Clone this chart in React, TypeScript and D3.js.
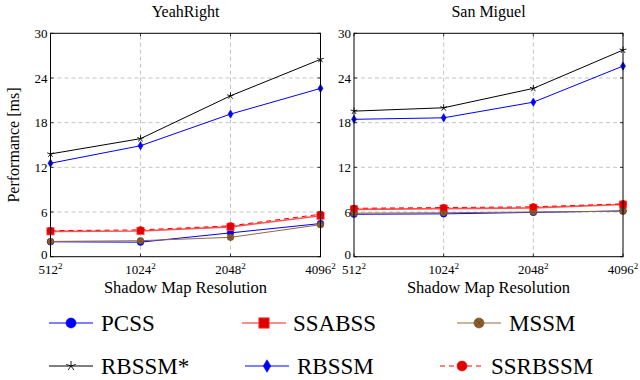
import { useRef, useEffect } from 'react';
import * as d3 from 'd3';

// x categories (shadow map sizes, squared in the labels)
const resolutions = [512, 1024, 2048, 4096];
const yTicks = [0, 6, 12, 18, 24, 30];
const sceneNames = ["YeahRight", "San Miguel"];
const seriesNames = ["PCSS", "SSABSS", "MSSM", "RBSSM*", "RBSSM", "SSRBSSM"];

// YeahRight timings [ms]
const yeahPCSS = [2.0, 1.95, 3.2, 4.45];
const yeahSSABSS = [3.4, 3.45, 4.0, 5.5];
const yeahMSSM = [2.05, 2.15, 2.6, 4.3];
const yeahRBSSMStar = [13.8, 15.85, 21.6, 26.5];
const yeahRBSSM = [12.55, 14.9, 19.15, 22.6];
const yeahSSRBSSM = [3.5, 3.6, 4.15, 5.7];

// San Miguel timings [ms]
const sanPCSS = [5.7, 5.75, 5.95, 6.15];
const sanSSABSS = [6.35, 6.45, 6.55, 7.0];
const sanMSSM = [5.85, 5.9, 6.0, 6.1];
const sanRBSSMStar = [19.55, 20.0, 22.6, 27.75];
const sanRBSSM = [18.45, 18.65, 20.75, 25.6];
const sanSSRBSSM = [6.5, 6.6, 6.7, 7.1];

const sceneData = [
    [yeahPCSS, yeahSSABSS, yeahMSSM, yeahRBSSMStar, yeahRBSSM, yeahSSRBSSM],
    [sanPCSS, sanSSABSS, sanMSSM, sanRBSSMStar, sanRBSSM, sanSSRBSSM],
];

// styles per series
const styles = [
    { color: "#0000ff", marker: "circle", fill: "#0000ff", dash: null },
    { color: "#ff1a1a", marker: "square", fill: "#dd0000", dash: null },
    { color: "#99683a", marker: "otimes", fill: "#8d5d2e", dash: null },
    { color: "#000000", marker: "star", fill: "#000000", dash: null },
    { color: "#0000ff", marker: "diamond", fill: "#0000ff", dash: null },
    { color: "#ff0000", marker: "circle", fill: "#e00000", dash: "5,4" },
];

// legend layout: [line start, text start, row y]
const legendLayout = [
    [49, 101, 323], [242, 293, 323], [457, 509, 323],
    [49, 101, 366], [245, 297, 366], [440, 491, 366],
];

// single name: falls back to the page's default serif face
const FONT = "Tinos";

function drawMarker(g, type, x, y, r, style) {
    if (type === "circle") {
        g.append("circle").attr("cx", x).attr("cy", y).attr("r", r)
            .attr("fill", style.fill).attr("stroke", style.color).attr("stroke-width", 0.6);
    } else if (type === "square") {
        g.append("rect").attr("x", x - r).attr("y", y - r)
            .attr("width", 2 * r).attr("height", 2 * r)
            .attr("fill", style.fill).attr("stroke", "#ff5050").attr("stroke-width", 0.8);
    } else if (type === "otimes") {
        g.append("circle").attr("cx", x).attr("cy", y).attr("r", r)
            .attr("fill", style.fill).attr("stroke", "#6e4520").attr("stroke-width", 0.6);
        const d = r * 0.7;
        g.append("path")
            .attr("d", `M${x - d},${y - d}L${x + d},${y + d}M${x - d},${y + d}L${x + d},${y - d}`)
            .attr("stroke", "#5c3a1a").attr("stroke-width", 0.5);
    } else if (type === "star") {
        let p = "";
        for (let i = 0; i < 5; i++) {
            const a = -Math.PI / 2 + i * 2 * Math.PI / 5;
            p += `M${x},${y}L${x + r * Math.cos(a)},${y + r * Math.sin(a)}`;
        }
        g.append("path").attr("d", p).attr("stroke", "#000").attr("stroke-width", 0.9);
    } else if (type === "diamond") {
        const w = r * 0.75;
        g.append("path")
            .attr("d", `M${x},${y - r * 1.25}L${x + w},${y}L${x},${y + r * 1.25}L${x - w},${y}Z`)
            .attr("fill", style.fill).attr("stroke", style.color).attr("stroke-width", 0.6);
    }
}

function Chart() {

    const svgRef = useRef();

    useEffect(() => {
        const width = 640;
        const height = 380;

        const svg = d3.select(svgRef.current)
            .attr("width", width)
            .attr("height", height)
            .attr("viewBox", [0, 0, width, height]);

        svg.selectAll("*").remove();

        //Panel positions
        const panels = [[50.5, 320.5], [354, 623]];
        const y = d3.scaleLinear().domain([0, 30]).range([256.7, 33.3]);

        panels.forEach(([x0, x1], si) => {
            const x = d3.scaleLog().base(2).domain([512, 4096]).range([x0, x1]);
            const g = svg.append("g");

            //Grid
            g.selectAll(".gy").data(yTicks.slice(1, -1)).join("line")
                .attr("x1", x0).attr("x2", x1)
                .attr("y1", d => y(d)).attr("y2", d => y(d))
                .attr("stroke", "#b5b5b5").attr("stroke-width", 0.8).attr("stroke-dasharray", "4,3");
            g.selectAll(".gx").data(resolutions.slice(1, -1)).join("line")
                .attr("x1", d => x(d)).attr("x2", d => x(d))
                .attr("y1", y(0)).attr("y2", y(30))
                .attr("stroke", "#b5b5b5").attr("stroke-width", 0.8).attr("stroke-dasharray", "4,3");

            //Ticks inward
            yTicks.forEach(t => {
                g.append("line").attr("x1", x0).attr("x2", x0 + 3).attr("y1", y(t)).attr("y2", y(t)).attr("stroke", "#333");
                g.append("line").attr("x1", x1).attr("x2", x1 - 3).attr("y1", y(t)).attr("y2", y(t)).attr("stroke", "#333");
            });
            resolutions.forEach(r => {
                g.append("line").attr("x1", x(r)).attr("x2", x(r)).attr("y1", y(0)).attr("y2", y(0) - 3).attr("stroke", "#333");
                g.append("line").attr("x1", x(r)).attr("x2", x(r)).attr("y1", y(30)).attr("y2", y(30) + 3).attr("stroke", "#333");
            });

            //Series
            const line = d3.line().x((d, i) => x(resolutions[i])).y(d => y(d));
            sceneData[si].forEach((vals, k) => {
                const st = styles[k];
                g.append("path").datum(vals)
                    .attr("d", line)
                    .attr("fill", "none")
                    .attr("stroke", st.color)
                    .attr("stroke-width", k === 1 ? 1.6 : 1)
                    .attr("stroke-opacity", k === 1 ? 0.75 : 1)
                    .attr("stroke-dasharray", st.dash);
                vals.forEach((v, i) => {
                    const r = st.marker === "star" ? 3.5 : st.marker === "square" ? 3.6 : 3.3;
                    drawMarker(g, st.marker, x(resolutions[i]), y(v), r, st);
                });
            });

            //Frame
            g.append("rect").attr("x", x0).attr("y", y(30))
                .attr("width", x1 - x0).attr("height", y(0) - y(30))
                .attr("fill", "none").attr("stroke", "#000").attr("stroke-width", 1);

            //Tick labels
            g.selectAll(".yl").data(yTicks).join("text")
                .attr("x", x0 - 3).attr("y", d => d === 0 ? y(d) - 2.5 : y(d)).attr("dy", "0.35em")
                .attr("text-anchor", "end").attr("font-family", FONT).attr("font-size", 13)
                .text(d => d);
            const xl = g.selectAll(".xl").data(resolutions).join("text")
                .attr("x", d => x(d)).attr("y", 274)
                .attr("text-anchor", "middle").attr("font-family", FONT).attr("font-size", 13);
            xl.append("tspan").text(d => d);
            xl.append("tspan").attr("font-size", 9).attr("dy", -5).text("2");

            //Titles
            g.append("text").attr("x", (x0 + x1) / 2).attr("y", 17)
                .attr("text-anchor", "middle").attr("font-family", FONT).attr("font-size", 16)
                .text(sceneNames[si]);
            g.append("text").attr("x", (x0 + x1) / 2).attr("y", 293)
                .attr("text-anchor", "middle").attr("font-family", FONT).attr("font-size", 16.5)
                .text("Shadow Map Resolution");
        });

        //Y axis label
        svg.append("text")
            .attr("transform", `translate(19,145) rotate(-90)`)
            .attr("text-anchor", "middle").attr("font-family", FONT).attr("font-size", 16)
            .text("Performance [ms]");

        //Legend
        const lg = svg.append("g");
        seriesNames.forEach((name, k) => {
            const [lx, tx, ly] = legendLayout[k];
            const st = styles[k];
            lg.append("line").attr("x1", lx).attr("x2", lx + 44).attr("y1", ly).attr("y2", ly)
                .attr("stroke", st.color).attr("stroke-width", 1)
                .attr("stroke-dasharray", st.dash);
            const r = st.marker === "star" ? 5 : st.marker === "square" ? 5.2 : 5;
            drawMarker(lg, st.marker, lx + 22, ly, r, st);
            lg.append("text").attr("x", tx).attr("y", ly).attr("dy", "0.35em")
                .attr("font-family", FONT).attr("font-size", 23)
                .text(name);
        });
    }, []);

    return <svg ref={svgRef} style={{ position: "absolute", left: 0, top: 0 }} />;
}

export default function App() {
    return <Chart />;
}
